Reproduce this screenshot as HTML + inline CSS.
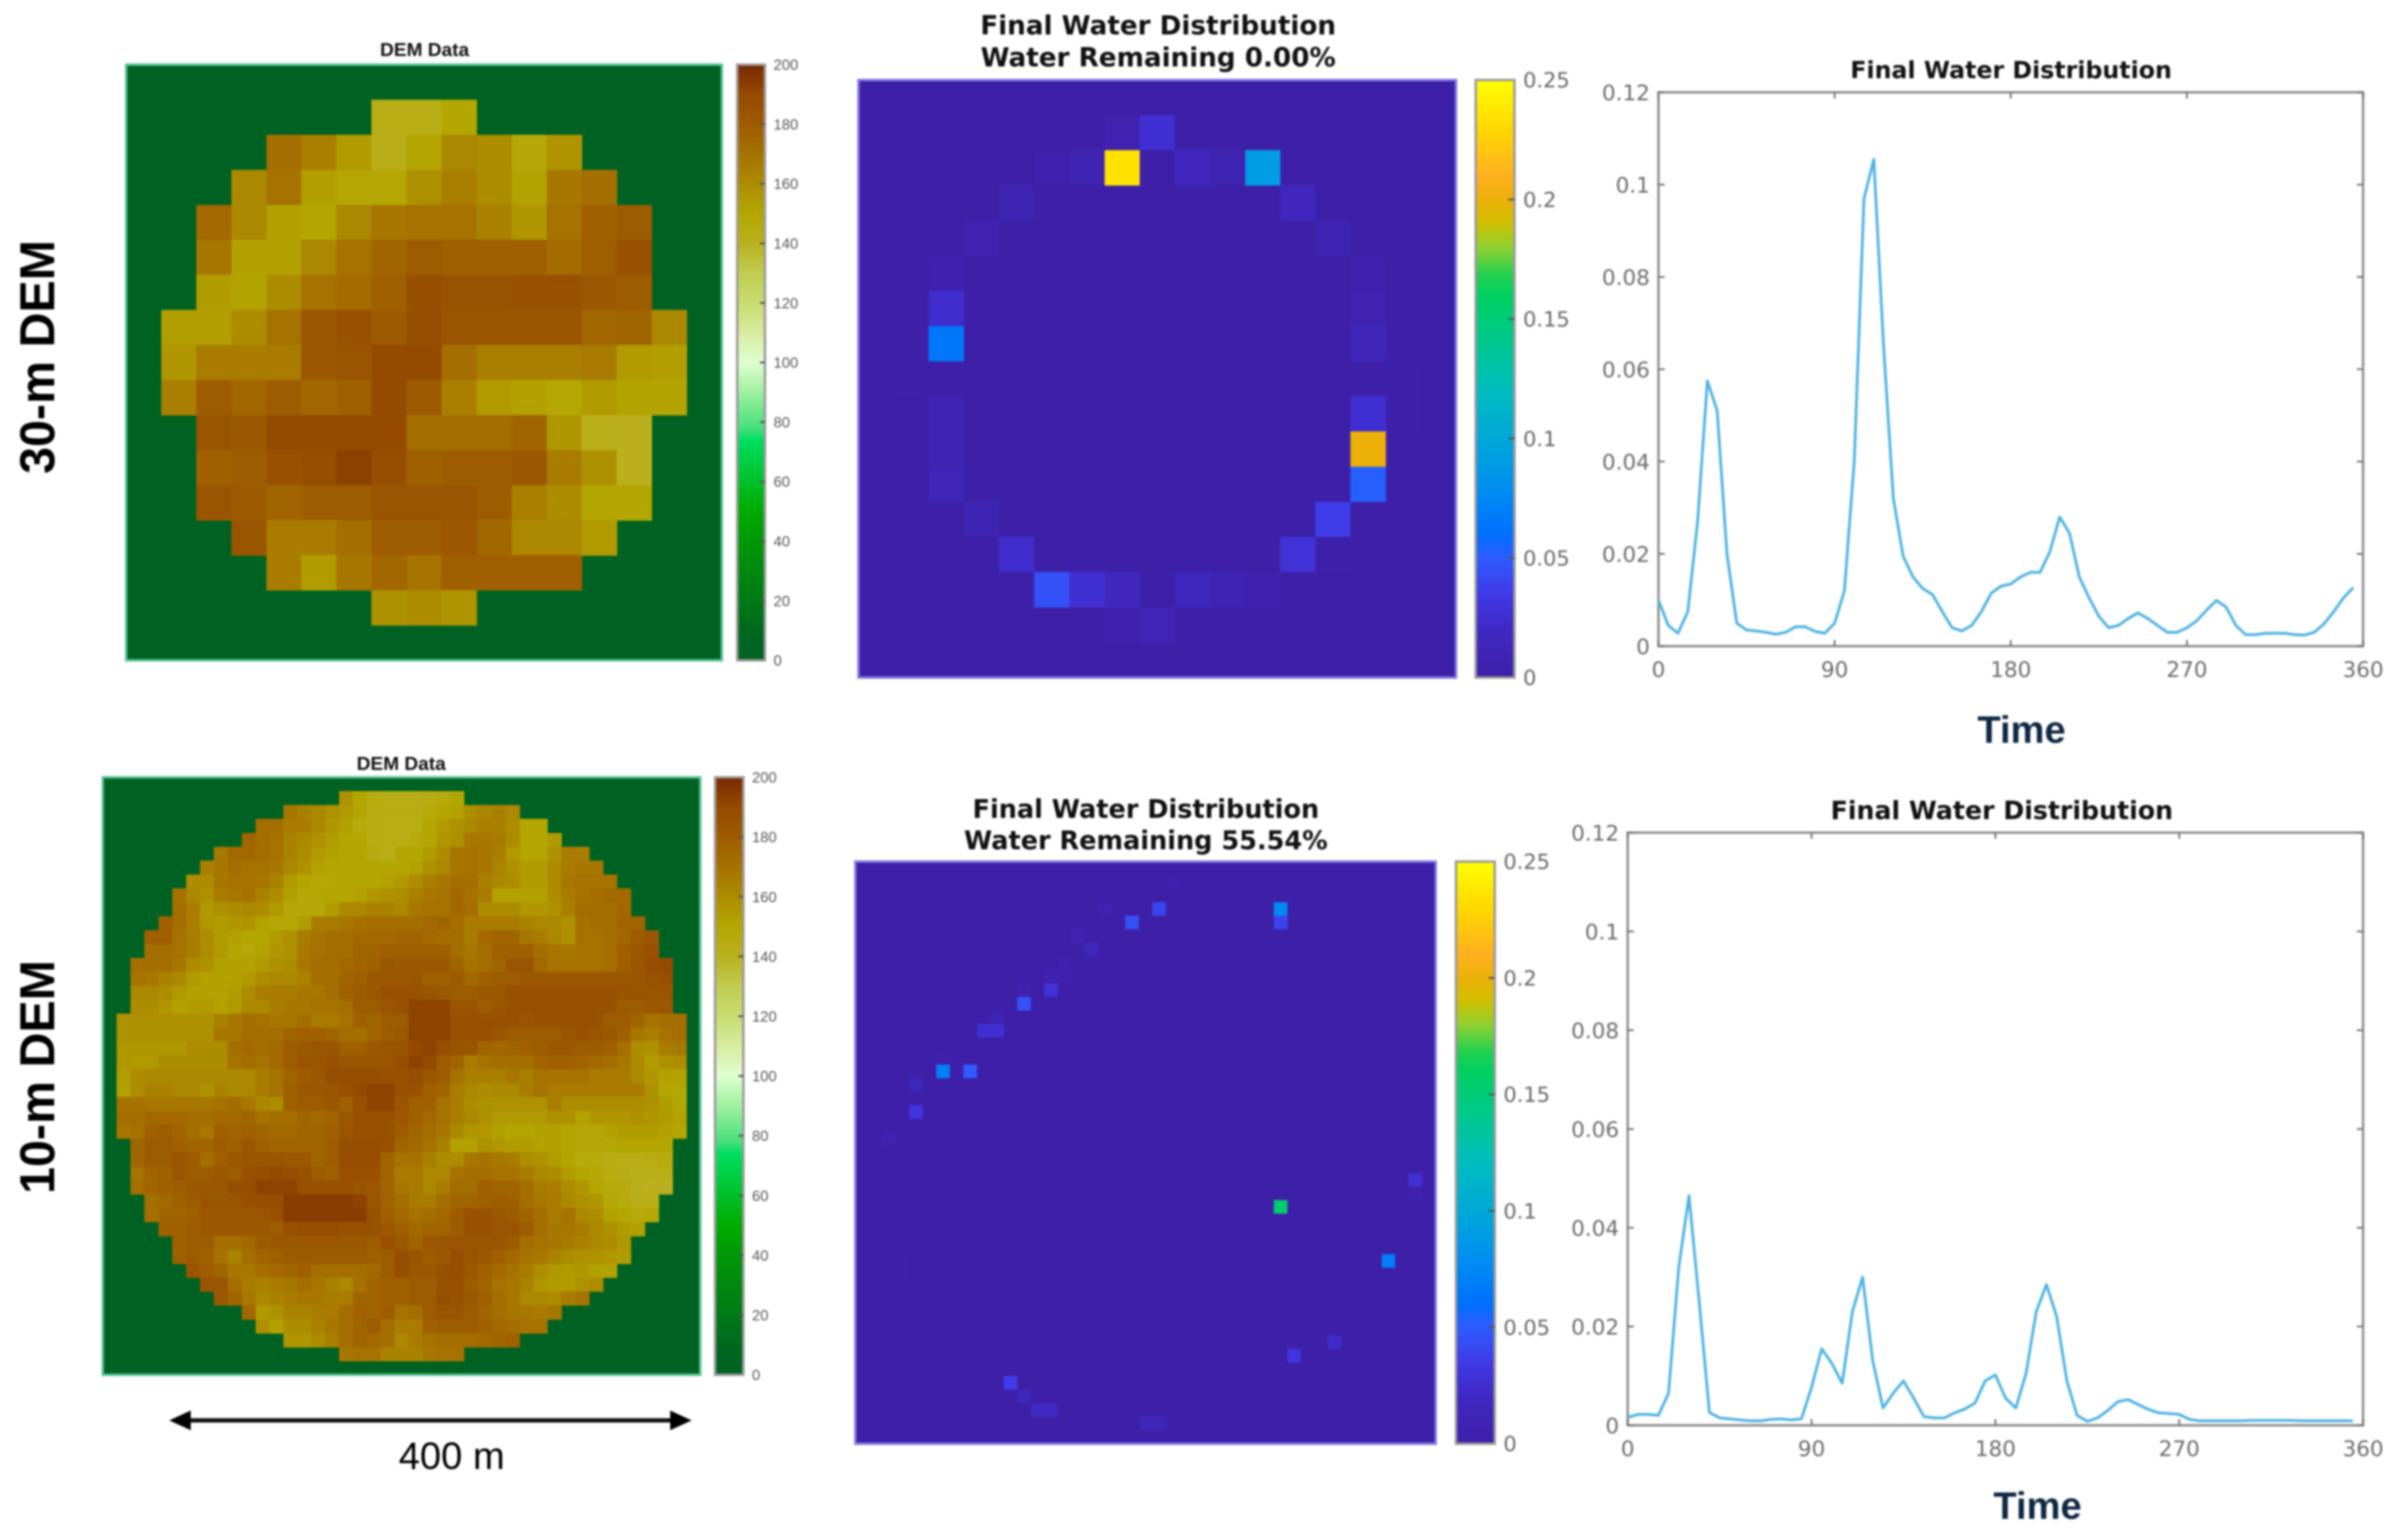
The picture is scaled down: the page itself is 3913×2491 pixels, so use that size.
<!DOCTYPE html>
<html lang="en">
<head>
<meta charset="utf-8">
<title>DEM resolution comparison</title>
<style>
html,body{margin:0;padding:0;background:#fff;width:3913px;height:2491px;overflow:hidden}
svg{display:block;filter:blur(1.6px)}
.dj{font-family:"DejaVu Sans",sans-serif}
.lb{font-family:"Liberation Sans",sans-serif}
</style>
</head>
<body>
<svg id="figure" xmlns="http://www.w3.org/2000/svg" width="3913" height="2491" viewBox="0 0 3913 2491">
  <rect width="3913" height="2491" fill="#ffffff"/>
  <text class="lb" transform="translate(88,770) rotate(-90)" font-size="80" font-weight="700" fill="#000" textLength="380" lengthAdjust="spacingAndGlyphs">30-m DEM</text>
  <text class="lb" transform="translate(88,1940) rotate(-90)" font-size="80" font-weight="700" fill="#000" textLength="380" lengthAdjust="spacingAndGlyphs">10-m DEM</text>

  <text class="lb" x="690" y="91" font-size="31" font-weight="700" text-anchor="middle" fill="#111">DEM Data</text>
  <text class="lb" x="652" y="1251" font-size="31" font-weight="700" text-anchor="middle" fill="#111">DEM Data</text>

  <text class="dj" x="1882" y="56" font-size="42.6" font-weight="700" text-anchor="middle" fill="#111">Final Water Distribution</text>
  <text class="dj" x="1882" y="108" font-size="42.6" font-weight="700" text-anchor="middle" fill="#111">Water Remaining 0.00%</text>
  <text class="dj" x="1862" y="1329" font-size="41.5" font-weight="700" text-anchor="middle" fill="#111">Final Water Distribution</text>
  <text class="dj" x="1862" y="1380" font-size="41.5" font-weight="700" text-anchor="middle" fill="#111">Water Remaining 55.54%</text>

  <text class="dj" x="3268" y="127" font-size="38.5" font-weight="700" text-anchor="middle" fill="#111">Final Water Distribution</text>
  <text class="dj" x="3253" y="1331" font-size="41" font-weight="700" text-anchor="middle" fill="#111">Final Water Distribution</text>
  <text class="lb" x="3285" y="1207" font-size="62" font-weight="700" text-anchor="middle" fill="#0e2841">Time</text>
  <text class="lb" x="3311" y="2468" font-size="62" font-weight="700" text-anchor="middle" fill="#0e2841">Time</text>

  <g>
    <line x1="305" y1="2308" x2="1092" y2="2308" stroke="#111" stroke-width="7"/>
    <polygon points="275,2308 310,2292 310,2324" fill="#000"/>
    <polygon points="1124,2308 1089,2292 1089,2324" fill="#000"/>
  </g>
  <text class="lb" x="734" y="2387" font-size="62" text-anchor="middle" fill="#000">400 m</text>

  <g id="dem30"></g>
  <g id="dem10"></g>
  <g id="water30"></g>
  <g id="water10"></g>
  <g id="line30"></g>
  <g id="line10"></g>
</svg>

<script>
// ---- elevation rows for the 30 m DEM (centred inside a 17x17 grid, first row index 1)
const dem30Rows = [
[143,143,150],
[172,165,155,142,150,162,160,148,157],
[162,170,153,149,149,158,165,160,151,168,172],
[174,162,152,150,162,168,170,170,164,156,170,178,180],
[168,152,152,162,170,176,180,178,178,178,173,179,186],
[154,151,160,170,173,178,187,185,185,186,186,182,180],
[153,153,160,170,182,186,181,188,184,184,184,184,175,176,162],
[156,166,166,166,182,184,190,190,172,165,165,165,167,155,153],
[165,180,175,180,175,178,190,181,165,155,152,149,154,151,151],
[184,182,190,190,190,190,172,172,172,176,156,141,140],
[178,180,186,188,193,188,178,180,180,182,166,158,140],
[184,181,176,180,180,184,184,184,180,165,160,150,150],
[184,166,166,172,180,180,183,175,162,162,155],
[166,154,168,175,170,178,178,178,178],
[158,160,157]
];
// ---- elevation rows for the 10 m DEM (centred inside a 43x43 grid, first row index 1)
const dem10Rows = [
[158,150,144,143,143,143,144,146,150],
[168,165,162,158,155,150,144,144,144,144,146,150,152,160,163,165,162],
[172,172,166,166,162,156,152,146,144,143,143,143,150,155,158,162,165,165,160,150,150],
[176,172,170,164,162,158,154,150,150,144,143,143,146,150,156,158,168,168,166,160,150,150,155],
[168,174,174,172,170,164,160,155,152,150,150,146,143,150,150,154,160,168,170,168,165,155,150,150,158,166,166],
[165,168,172,170,170,168,162,158,152,150,150,150,150,150,150,152,158,162,168,170,168,163,158,154,154,160,166,168,168],
[160,160,168,170,170,168,164,155,150,148,149,150,150,150,152,155,160,165,168,172,172,165,162,160,154,154,160,168,170,170,170],
[170,162,158,166,168,170,164,160,152,148,149,150,150,152,156,158,160,165,168,170,174,170,166,152,152,152,152,160,166,170,172,174,174],
[172,166,155,158,160,162,160,155,148,148,148,154,162,162,164,164,162,168,170,170,174,172,160,160,160,156,156,158,165,172,172,172,174],
[178,172,165,156,154,156,157,152,148,148,154,166,166,168,170,172,172,172,172,174,176,172,166,166,166,166,164,162,162,158,170,172,172,176,176],
[178,178,170,166,160,154,152,150,150,155,158,166,170,172,172,174,174,174,176,176,174,172,172,166,174,176,176,168,166,162,158,170,170,172,174,180,184],
[172,172,170,166,160,155,150,148,152,156,158,168,170,172,172,176,176,178,178,178,178,178,172,168,172,178,178,178,172,168,168,170,170,172,178,182,186],
[172,172,172,168,160,158,152,152,152,155,158,160,168,172,172,174,176,178,184,182,182,182,182,176,170,172,176,184,184,174,170,170,170,170,172,178,184,188,190],
[170,168,164,162,155,152,152,152,155,160,162,162,164,172,172,176,178,182,182,182,184,178,178,180,174,178,180,180,182,182,182,182,182,182,182,182,184,186,188],
[162,162,160,155,152,152,152,154,160,166,166,166,168,168,172,178,180,182,186,186,186,184,182,180,180,182,182,186,186,186,186,186,186,186,186,184,184,184,184],
[160,160,156,152,154,155,152,155,162,162,166,168,168,170,170,172,180,180,184,186,192,192,192,184,184,180,184,186,186,186,186,186,186,186,186,180,180,182,182],
[158,158,158,158,158,158,158,164,168,172,170,168,168,172,166,166,170,178,176,180,180,192,192,192,186,186,186,186,186,184,186,186,186,186,186,180,180,176,170,172,172],
[158,158,158,158,158,158,158,168,168,172,172,172,176,178,178,176,172,172,176,180,182,192,192,192,186,186,186,184,180,180,180,180,184,186,184,182,178,168,165,170,172],
[156,156,156,156,156,160,160,160,172,174,172,174,180,182,184,184,178,178,182,184,184,190,192,188,184,184,176,174,176,178,180,182,182,180,180,178,172,160,158,166,168],
[156,155,155,160,160,160,160,160,170,172,170,174,180,184,184,186,184,184,184,184,188,192,190,180,176,166,170,172,172,172,176,178,178,176,174,172,168,160,154,158,160],
[153,160,162,162,162,162,162,162,162,162,166,170,176,180,182,188,188,188,188,186,186,188,184,180,170,165,165,165,168,165,170,170,170,170,166,166,166,160,156,152,152],
[152,160,164,164,162,162,158,164,162,162,166,170,178,182,182,184,186,190,192,192,186,186,178,176,166,162,160,162,162,166,170,166,166,166,166,166,166,166,158,150,150],
[170,170,168,168,168,168,168,170,172,168,162,160,178,180,180,184,178,186,192,192,184,178,178,170,166,160,158,158,158,158,158,166,160,160,160,160,160,160,158,154,150],
[172,172,174,174,174,172,172,174,174,176,170,172,172,176,174,176,182,186,186,186,182,178,174,170,165,162,158,155,155,155,155,158,158,152,156,156,156,158,156,154,152],
[168,170,178,180,176,172,168,178,176,178,176,174,174,176,176,178,184,186,186,186,180,176,172,168,162,156,156,152,150,150,152,152,150,148,148,152,154,154,154,152,150],
[176,180,180,178,176,176,180,178,182,178,176,176,176,176,180,188,188,188,186,176,174,170,164,152,152,158,156,154,154,152,152,150,148,148,148,150,150,150,150],
[176,180,180,184,180,172,178,182,184,184,184,182,182,176,180,188,188,188,176,170,170,165,160,160,168,170,168,166,160,158,154,150,146,146,144,143,143,144,146],
[170,176,178,184,180,180,182,180,186,188,190,188,186,180,178,186,186,186,176,166,166,162,162,170,172,172,170,170,166,162,160,154,150,148,145,143,141,141,143],
[172,176,178,180,182,182,182,188,188,192,192,192,186,186,186,186,184,182,176,168,166,162,166,172,172,178,176,176,172,166,165,160,156,150,146,146,141,140,140],
[172,174,178,180,184,184,184,186,188,188,194,194,194,194,194,192,184,176,172,166,166,172,176,176,178,180,178,172,168,166,162,158,156,148,146,142,142],
[172,176,176,178,182,182,182,182,184,186,194,194,194,194,194,194,186,178,174,170,172,174,180,186,186,182,180,176,172,166,170,162,160,152,150,146,148],
[178,178,180,182,182,182,182,182,180,186,188,188,188,186,186,186,182,178,174,176,176,180,186,186,184,184,180,172,168,168,166,162,158,154,152],
[178,180,180,172,172,174,180,182,182,182,182,182,182,182,180,186,182,176,182,184,184,184,184,184,180,172,170,168,166,164,162,160,156],
[178,180,178,170,164,172,176,178,180,180,180,180,180,180,178,180,188,184,180,182,188,184,182,178,174,170,168,164,160,158,158,156,154],
[184,180,176,168,168,172,174,176,178,172,172,172,172,174,180,188,182,182,186,188,182,178,174,170,166,160,156,155,156,152,152],
[184,184,172,166,164,166,168,172,168,164,162,170,176,178,178,180,180,186,186,180,176,170,168,164,156,154,154,158,160],
[182,176,168,162,164,166,168,168,166,166,176,176,178,178,180,180,188,186,182,178,172,168,162,162,160,166,170],
[174,155,158,164,164,166,166,172,178,176,180,170,172,180,184,184,180,176,172,168,168,166,168],
[158,152,160,160,164,168,172,176,180,172,166,166,178,180,180,180,178,174,172,170,170],
[156,156,160,165,172,176,174,172,162,166,170,172,172,172,174,176,178],
[168,170,170,164,164,164,168,170,170]
];
// ---- water depth cells, 30 m grid (17x17)
const water30Row = [1,1,2,2,2,2,2,2,3,3,4,4,5,5,6,6,7,7,8,8,9,9,9,10,10,11,11,12,12,13,13,13,14,14,14,14,14,14,15,15,15];
const water30Col = [7,8,5,6,7,9,10,11,4,12,3,13,2,14,2,14,2,14,1,15,2,14,15,2,14,2,14,3,13,4,12,13,5,6,7,9,10,11,7,8,9];
const water30Val = [.005,.026,.003,.008,.235,.016,.008,.09,.007,.016,.005,.007,.003,.003,.024,.006,.065,.012,.002,.002,.007,.026,.002,.007,.2,.012,.052,.007,.036,.024,.028,.002,.045,.026,.016,.014,.008,.003,.004,.011,.002];
// ---- water depth cells, 10 m grid (43x43)
const water10Row = [3,4,3,4,3,1,5,6,7,8,8,9,9,10,11,12,12,14,15,15,16,18,20,23,24,25,29,29,30,35,36,38,39,40,40,41,41];
const water10Col = [31,31,22,20,18,23,16,17,15,14,15,14,12,12,10,9,10,6,6,8,4,4,2,41,41,31,39,3,3,35,32,11,12,13,14,21,22];
const water10Val = [.075,.04,.04,.045,.005,.003,.008,.014,.003,.006,.004,.028,.005,.045,.008,.026,.026,.004,.07,.05,.014,.032,.006,.026,.004,.155,.07,.002,.002,.022,.032,.036,.014,.02,.02,.012,.012];
// ---- line charts
const timeSteps = [0,5,10,15,20,25,30,35,40,45,50,55,60,65,70,75,80,85,90,95,100,105,110,115,120,125,130,135,140,145,150,155,160,165,170,175,180,185,190,195,200,205,210,215,220,225,230,235,240,245,250,255,260,265,270,275,280,285,290,295,300,305,310,315,320,325,330,335,340,345,350,355];
const water30Series = [.0100,.0045,.0028,.0075,.0270,.0575,.0510,.0200,.0050,.0035,.0033,.0030,.0026,.0030,.0042,.0042,.0032,.0028,.0050,.0120,.0400,.0970,.1055,.0650,.0320,.0195,.0150,.0125,.0112,.0075,.0040,.0033,.0045,.0075,.0115,.0130,.0135,.0150,.0160,.0160,.0205,.0280,.0245,.0150,.0105,.0065,.0040,.0045,.0060,.0072,.0060,.0045,.0030,.0030,.0040,.0055,.0078,.0099,.0085,.0045,.0025,.0025,.0028,.0028,.0028,.0025,.0024,.0030,.0048,.0075,.0105,.0127];
const water10Series = [.0016,.0022,.0022,.0020,.0065,.0320,.0465,.0250,.0026,.0015,.0013,.0011,.0009,.0009,.0012,.0013,.0011,.0013,.0077,.0155,.0125,.0085,.0230,.0300,.0130,.0035,.0065,.0090,.0055,.0018,.0015,.0015,.0025,.0033,.0045,.0090,.0102,.0055,.0035,.0105,.0230,.0285,.0220,.0090,.0020,.0008,.0015,.0030,.0048,.0052,.0042,.0032,.0025,.0024,.0022,.0012,.0009,.0009,.0009,.0009,.0009,.0010,.0010,.0010,.0010,.0010,.0009,.0009,.0009,.0009,.0009,.0009];
const lineXTicks = [0,90,180,270,360];
const lineYTicks = [0,0.02,0.04,0.06,0.08,0.1,0.12];
const demBarTicks = [0,20,40,60,80,100,120,140,160,180,200];
const waterBarTicks = [0,0.05,0.1,0.15,0.2,0.25];

const NS = 'http://www.w3.org/2000/svg';
function mk(parent, tag, attrs, text) {
  const el = document.createElementNS(NS, tag);
  for (const k in attrs) el.setAttribute(k, attrs[k]);
  if (text !== undefined) el.textContent = text;
  parent.appendChild(el);
  return el;
}
function hex(c){ return 'rgb(' + c.map(v => Math.round(v)).join(',') + ')'; }
function ramp(stops, v) {
  if (v <= stops[0][0]) return stops[0].slice(1);
  for (let i = 1; i < stops.length; i++) {
    if (v <= stops[i][0]) {
      const a = stops[i-1], b = stops[i], t = (v - a[0]) / (b[0] - a[0]);
      return [a[1]+(b[1]-a[1])*t, a[2]+(b[2]-a[2])*t, a[3]+(b[3]-a[3])*t];
    }
  }
  return stops[stops.length-1].slice(1);
}
const demRamp = [[0,0,98,34],[10,0,104,30],[20,0,122,22],[40,0,152,8],[50,0,172,0],[60,0,192,40],[74,0,222,96],[78,70,224,122],[90,160,240,160],[100,222,255,208],[110,216,236,160],[120,200,220,112],[130,192,204,80],[140,186,176,30],[150,180,166,0],[160,173,140,0],[170,166,114,0],[180,158,92,0],[190,150,74,0],[200,122,40,0]];
const waterRamp = [[0,62,32,168],[0.02,64,40,196],[0.035,64,58,232],[0.05,46,92,255],[0.06,0,112,255],[0.08,0,144,240],[0.1,0,168,216],[0.12,0,188,192],[0.14,0,200,144],[0.16,0,208,96],[0.168,32,208,80],[0.18,144,208,48],[0.19,208,192,0],[0.2,236,176,8],[0.21,255,176,32],[0.23,255,216,0],[0.25,255,255,0]];

function scaleBox(box, n) {
  return { cellW: box.w / n, cellH: box.h / n, x: i => box.x + i * box.w / n, y: i => box.y + i * box.h / n };
}
function frame(g, box, name, color) {
  const f = mk(g, 'rect', {x: box.x, y: box.y, width: box.w, height: box.h, fill: 'none', stroke: color, 'stroke-width': 4});
  
  
}
function colorbar(g, id, bar, stops, vmax, ticks, fmt, fontClass, fontSize, tickColor, tlen) {
  const defs = mk(g, 'defs', {});
  const grad = mk(defs, 'linearGradient', {id: id, x1: 0, y1: 1, x2: 0, y2: 0});
  stops.forEach(s => mk(grad, 'stop', {offset: s[0] / vmax, 'stop-color': hex(s.slice(1))}));
  const r = mk(g, 'rect', {x: bar.x, y: bar.y, width: bar.w, height: bar.h, fill: 'url(#' + id + ')', stroke: '#9a9a9a', 'stroke-width': 4});
  
  
  const sy = v => bar.y + bar.h - v / vmax * bar.h;
  ticks.forEach(v => {
    if (v > 0 && v < vmax) {
      const t = mk(g, 'line', {x1: bar.x + bar.w - tlen, x2: bar.x + bar.w, y1: sy(v), y2: sy(v), stroke: '#555', 'stroke-width': 3});
      
      
    }
    const l = mk(g, 'text', {x: bar.x + bar.w + 14, y: sy(v) + fontSize * 0.36, 'font-size': fontSize, fill: tickColor, 'class': fontClass}, fmt(v));
    
    
  });
}
function demMap(gid, rows, n, box, bar, gradId) {
  const g = document.getElementById(gid);
  const s = scaleBox(box, n);
  const bg = mk(g, 'rect', {x: box.x, y: box.y, width: box.w, height: box.h, fill: hex(ramp(demRamp, 0))});
  
  
  rows.forEach((vals, r) => {
    const start = (n - vals.length) / 2;
    vals.forEach((v, c) => {
      const cell = mk(g, 'rect', {x: s.x(start + c), y: s.y(r + 1), width: s.cellW + 0.6, height: s.cellH + 0.6, fill: hex(ramp(demRamp, v)), 'shape-rendering': 'crispEdges'});
      
      
    });
  });
  frame(g, box, 'dem-frame', '#5cc49a');
  colorbar(g, gradId, bar, demRamp, 200, demBarTicks, String, 'lb', 24, '#555', 8);
}
function waterMap(gid, rows, cols, vals, n, box, bar, gradId) {
  const g = document.getElementById(gid);
  const s = scaleBox(box, n);
  const bg = mk(g, 'rect', {x: box.x, y: box.y, width: box.w, height: box.h, fill: hex(ramp(waterRamp, 0))});
  
  
  vals.forEach((v, i) => {
    const cell = mk(g, 'rect', {x: s.x(cols[i]), y: s.y(rows[i]), width: s.cellW, height: s.cellH, fill: hex(ramp(waterRamp, v)), 'shape-rendering': 'crispEdges'});
    
    
  });
  frame(g, box, 'water-frame', '#8478e0');
  colorbar(g, gradId, bar, waterRamp, 0.25, waterBarTicks, String, 'dj', 34, '#666', 10);
}
function lineChart(gid, xs, ys, box) {
  const g = document.getElementById(gid);
  const sx = t => box.x + t / 360 * box.w;
  const sy = v => box.y + box.h - v / 0.12 * box.h;
  const bg = mk(g, 'rect', {x: box.x, y: box.y, width: box.w, height: box.h, fill: '#fff', stroke: '#8f8f8f', 'stroke-width': 4});
  
  
  lineXTicks.forEach(t => {
    [[box.y + box.h, -10], [box.y, 10]].forEach(p => {
      const k = mk(g, 'line', {x1: sx(t), x2: sx(t), y1: p[0], y2: p[0] + p[1], stroke: '#777', 'stroke-width': 3});
      
      
    });
    const l = mk(g, 'text', {x: sx(t), y: box.y + box.h + 50, 'font-size': 35, 'text-anchor': 'middle', fill: '#6b6b6b', 'class': 'dj'}, String(t));
    
    
  });
  lineYTicks.forEach(v => {
    [[box.x, 10], [box.x + box.w, -10]].forEach(p => {
      const k = mk(g, 'line', {x1: p[0], x2: p[0] + p[1], y1: sy(v), y2: sy(v), stroke: '#777', 'stroke-width': 3});
      
      
    });
    const l = mk(g, 'text', {x: box.x - 14, y: sy(v) + 13, 'font-size': 35, 'text-anchor': 'end', fill: '#6b6b6b', 'class': 'dj'}, String(v));
    
    
  });
  const pts = xs.map((t, i) => sx(t).toFixed(1) + ',' + sy(ys[i]).toFixed(1)).join(' ');
  const line = mk(g, 'polyline', {points: pts, fill: 'none', stroke: '#4fb3e4', 'stroke-width': 4.5, 'stroke-linejoin': 'round'});
  
  
}

demMap('dem30', dem30Rows, 17, {x: 205, y: 105, w: 968, h: 968}, {x: 1198, y: 105, w: 45, h: 968}, 'demGradA');
demMap('dem10', dem10Rows, 43, {x: 167, y: 1263, w: 971, h: 971}, {x: 1162, y: 1263, w: 46, h: 971}, 'demGradB');
waterMap('water30', water30Row, water30Col, water30Val, 17, {x: 1395, y: 130, w: 971, h: 971}, {x: 2398, y: 130, w: 63, h: 971}, 'waterGradA');
waterMap('water10', water10Row, water10Col, water10Val, 43, {x: 1390, y: 1400, w: 943, h: 946}, {x: 2366, y: 1400, w: 63, h: 946}, 'waterGradB');
lineChart('line30', timeSteps, water30Series, {x: 2695, y: 150, w: 1145, h: 900});
lineChart('line10', timeSteps, water10Series, {x: 2645, y: 1353, w: 1195, h: 963});
</script>
</body>
</html>
